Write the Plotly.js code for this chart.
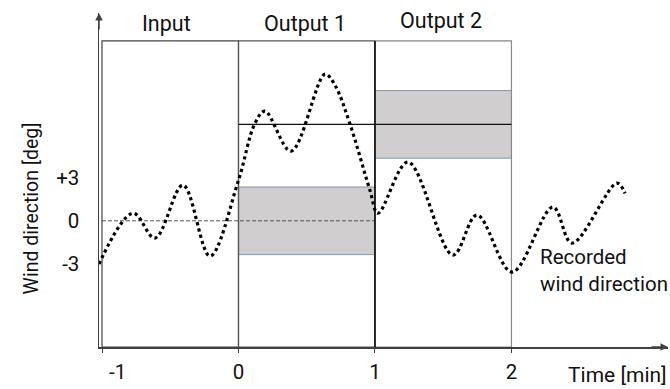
<!DOCTYPE html>
<html>
<head>
<meta charset="utf-8">
<script src="https://cdn.plot.ly/plotly-3.0.1.min.js"></script>
<style>html,body{margin:0;padding:0;background:#fff;}#chart{width:670px;height:389px;}</style>
</head>
<body>
<div id="chart"></div>
<script>
// Recorded wind direction (time in min, direction in deg)
const timeMin = [-1.022, -0.773, -0.612, -0.407, -0.209, -0.004, 0.121, 0.194, 0.385, 0.634, 0.707, 0.817, 0.963, 1.022, 1.242, 1.571, 1.747, 2.004, 2.304, 2.443, 2.773, 2.832];
const windDir = [-3.0, 0.53, -1.20, 2.48, -2.45, 2.69, 6.78, 7.62, 4.84, 10.19, 9.42, 6.72, 2.13, 0.53, 4.08, -2.38, 0.40, -3.56, 0.95, -1.55, 2.62, 1.91];

// Windows
const windowNames = ['Input', 'Output 1', 'Output 2'];
const windowStart = [-1, 0, 1];
const windowEnd = [0, 1, 2];
const windowTop = 12.5;
const axisBottom = -8.77;

// Predictions: mean and band for each output window
const predMean = [null, 6.7, 6.7];
const bandLow = [null, -2.35, 4.35];
const bandHigh = [null, 2.35, 9.05];

// Tick labels
const xTickVals = [-1, 0, 1, 2];
const xTickText = ['\u2003\u2002-1', '0', '1', '2'];
const yTickVals = [3, 0, -3];
const yTickText = ['+3', '0', '-3'];

const FONT = 'Roboto, Lato, sans-serif';
const TXT = '#111';

const shapes = [];
// grey prediction bands
for (let i = 0; i < 3; i++) {
  if (bandLow[i] === null) continue;
  shapes.push({type: 'rect', layer: 'below', xref: 'x', yref: 'y', x0: windowStart[i], x1: windowEnd[i], y0: bandLow[i], y1: bandHigh[i],
    fillcolor: '#d0cece', line: {color: '#8497b0', width: 1}});
}
// zero dashed line
shapes.push({type: 'line', layer: 'below', xref: 'x', yref: 'y', x0: windowStart[0], x1: windowEnd[1], y0: 0, y1: 0,
  line: {color: '#555', width: 1, dash: '4px,2px'}});
// window boxes
const boxColor = ['#444', '#555', '#888'];
for (let i = 0; i < 3; i++) {
  shapes.push({type: 'rect', layer: 'below', xref: 'x', yref: 'y', x0: windowStart[i], x1: windowEnd[i], y0: axisBottom, y1: windowTop,
    fillcolor: 'rgba(0,0,0,0)', line: {color: boxColor[i], width: 1.2}});
}
// bold separator at t=1
shapes.push({type: 'line', layer: 'below', xref: 'x', yref: 'y', x0: windowStart[2], x1: windowStart[2], y0: axisBottom, y1: windowTop,
  line: {color: '#111', width: 1.6}});
// mean prediction lines
for (let i = 0; i < 3; i++) {
  if (predMean[i] === null) continue;
  shapes.push({type: 'line', layer: 'below', xref: 'x', yref: 'y', x0: windowStart[i], x1: windowEnd[i], y0: predMean[i], y1: predMean[i],
    line: {color: '#111', width: 1.4}});
}

const annotations = [];
const labelX = [-0.53, 0.487, 1.483];
const labelY = [13.73, 13.73, 13.94];
for (let i = 0; i < 3; i++) {
  annotations.push({xref: 'x', yref: 'y', x: labelX[i], y: labelY[i], text: windowNames[i], showarrow: false,
    font: {family: FONT, size: 21.5, color: TXT}, xanchor: 'center', yanchor: 'middle'});
}
annotations.push({xref: 'x', yref: 'y', x: 2.194, y: -3.45, text: 'Recorded<br>wind direction', showarrow: false, align: 'left',
  font: {family: FONT, size: 20.5, color: TXT}, xanchor: 'left', yanchor: 'middle'});
annotations.push({xref: 'paper', yref: 'paper', x: 0.912, y: -0.1257, text: 'Time [min]', showarrow: false,
  font: {family: FONT, size: 21, color: TXT}, xanchor: 'center', yanchor: 'bottom'});
annotations.push({xref: 'paper', yref: 'paper', x: -0.1195, y: 0.415, text: 'Wind direction [deg]', showarrow: false, textangle: -90,
  font: {family: FONT, size: 19.5, color: TXT}, xanchor: 'center', yanchor: 'middle'});
// axis arrows
annotations.push({xref: 'paper', yref: 'paper', x: 0, y: 1, ax: 0, ay: 18, axref: 'pixel', ayref: 'pixel', text: '', showarrow: true,
  arrowhead: 2, arrowsize: 1, arrowwidth: 1.5, arrowcolor: '#404040'});
annotations.push({xref: 'paper', yref: 'paper', x: 1, y: 0, ax: -18, ay: 0, axref: 'pixel', ayref: 'pixel', text: '', showarrow: true,
  arrowhead: 2, arrowsize: 1, arrowwidth: 1.5, arrowcolor: '#404040'});

const trace = {
  type: 'scatter', mode: 'lines', x: timeMin, y: windDir,
  line: {color: '#000', width: 3.2, dash: 'dot', shape: 'spline', smoothing: 1},
  hoverinfo: 'skip', cliponaxis: false
};

const layout = {
  width: 670, height: 389,
  margin: {l: 99, r: 2, t: 13, b: 42, autoexpand: false},
  paper_bgcolor: '#fff', plot_bgcolor: '#fff',
  showlegend: false,
  xaxis: {range: [-1.022, 3.147], showgrid: false, zeroline: false, showline: true, linecolor: '#404040', linewidth: 1.5,
    tickvals: xTickVals, ticktext: xTickText, ticks: 'outside', ticklen: 4, tickcolor: '#404040', tickwidth: 1,
    ticklabelstandoff: 2, tickfont: {family: FONT, size: 20.5, color: TXT}, fixedrange: true},
  yaxis: {range: [-8.77, 14.44], showgrid: false, zeroline: false, showline: true, linecolor: '#404040', linewidth: 1.5,
    tickvals: yTickVals, ticktext: yTickText, ticks: '', ticklabelstandoff: 14,
    tickfont: {family: FONT, size: 20.5, color: TXT}, fixedrange: true},
  shapes: shapes,
  annotations: annotations
};

Plotly.newPlot('chart', [trace], layout, {displayModeBar: false, staticPlot: true});
</script>
</body>
</html>
